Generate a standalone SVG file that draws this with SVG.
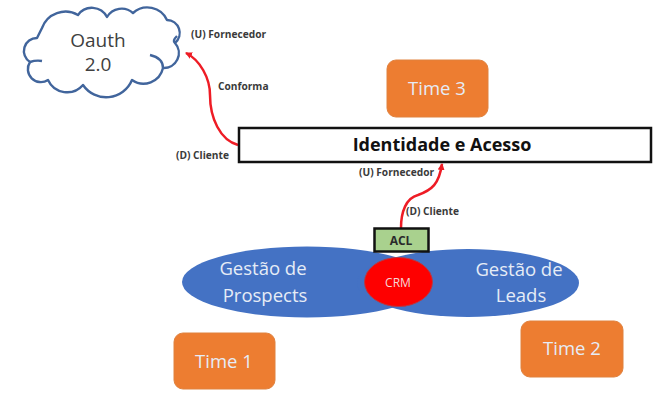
<svg xmlns="http://www.w3.org/2000/svg" width="669" height="407" viewBox="0 0 669 407">
<defs>
<style>
.t{font-family:"Open Sans","Noto Sans",sans-serif}
.w{fill:#e6ecf6;font-size:18.500px;text-anchor:middle}
.l{fill:#3a3a3a;font-size:10.200px;font-weight:700}
.o{fill:#ed7d31;stroke:#e0823f;stroke-width:1}
.e{fill:#4472c4}
.c{fill:none;stroke:#ee1c25;stroke-width:2.500}
</style>
<marker id="a" markerWidth="9" markerHeight="9" refX="6" refY="3.500" orient="auto" markerUnits="userSpaceOnUse"><path d="M0 0L7 3.500L0 7Z" fill="#ee1c25"/></marker>
</defs>
<rect width="669" height="407" fill="#fff"/>
<g id="oauth">
<path d="M42 28A25 25 0 0 1 78 15A17 17 0 0 1 107 17A17 17 0 0 1 133 13A21.500 21.500 0 0 1 167 20A13 13 0 0 1 175 43A15 15 0 0 1 163 68A20 20 0 0 1 132 80A28 28 0 0 1 83 85A21 21 0 0 1 48 80A13 13 0 0 1 30 62A13 13 0 0 1 37 38L42 28Z" fill="#fff" stroke="#41659c" stroke-width="2.400" stroke-linejoin="round"/>
<path d="M30 62Q36 60 42 61M150 55Q163 58 163 68M175 43Q172 41 177 36" fill="none" stroke="#41659c" stroke-width="2.400"/>
<text class="t" x="98" y="47" text-anchor="middle" font-size="19" fill="#404040">Oauth</text>
<text class="t" x="98" y="71" text-anchor="middle" font-size="19" fill="#404040">2.0</text>
</g>
<g id="connectors">
<path class="c" marker-end="url(#a)" d="M238 145C220 140 210 118 210 95C210 78 200 60 186 53"/>
<path class="c" marker-end="url(#a)" d="M401 228C401 212 406 198 418 195C432 190 439 184 442 164"/>
</g>
<g id="labels">
<text class="t l" x="191" y="38">(U) Fornecedor</text>
<text class="t l" x="218" y="90">Conforma</text>
<text class="t l" x="176" y="159">(D) Cliente</text>
<text class="t l" x="359" y="176">(U) Fornecedor</text>
<text class="t l" x="406" y="215">(D) Cliente</text>
</g>
<g id="time3">
<rect class="o" x="387" y="60" width="101" height="57" rx="9"/>
<text class="t w" x="437" y="95">Time 3</text>
</g>
<g id="identidade">
<rect x="239" y="128" width="412" height="34" fill="#fff" stroke="#111" stroke-width="2.500"/>
<text class="t" x="442" y="151" text-anchor="middle" font-size="18" font-weight="700" fill="#111">Identidade e Acesso</text>
</g>
<g id="prospects">
<ellipse class="e" cx="307" cy="282" rx="125" ry="35.500"/>
<text class="t w" x="263" y="275">Gestão de</text>
<text class="t w" x="265" y="302">Prospects</text>
</g>
<g id="leads">
<ellipse class="e" cx="468" cy="283" rx="111" ry="34"/>
<text class="t w" x="519" y="276">Gestão de</text>
<text class="t w" x="521" y="302">Leads</text>
</g>
<g id="crm">
<ellipse cx="398.500" cy="282" rx="34" ry="24.500" fill="#fe0000" stroke="#b53a45" stroke-width="1"/>
<text class="t" x="398" y="287" text-anchor="middle" font-size="12" fill="#f6d8d8">CRM</text>
</g>
<g id="acl">
<rect x="374.500" y="228.500" width="54" height="23" fill="#a9d18e" stroke="#111" stroke-width="2.500"/>
<text class="t" x="401" y="245" text-anchor="middle" font-size="12" font-weight="700" fill="#2b2b2b">ACL</text>
</g>
<g id="time1">
<rect class="o" x="174" y="333" width="101" height="56" rx="9"/>
<text class="t w" x="224" y="368">Time 1</text>
</g>
<g id="time2">
<rect class="o" x="521" y="321" width="102" height="56" rx="9"/>
<text class="t w" x="572" y="355">Time 2</text>
</g>
</svg>
